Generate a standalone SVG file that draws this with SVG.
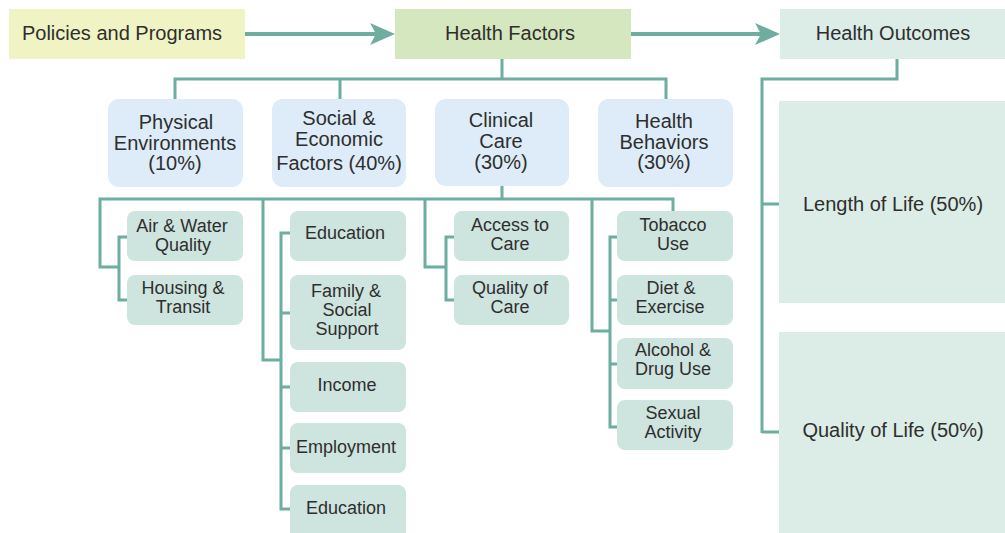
<svg xmlns="http://www.w3.org/2000/svg" width="1005" height="533" viewBox="0 0 1005 533">
<defs>
<style>
text{font-family:"Liberation Sans",Arial,sans-serif;fill:#2e2e2e;text-anchor:middle}
.t1{font-size:20px}
.t2{font-size:20px}
.t3{font-size:18px}
.c{fill:none;stroke:#6daea1;stroke-width:3}
.ar{fill:none;stroke:#6daea1;stroke-width:4}
.hd{fill:#6daea1}
.cat{fill:#ddecf8}
.sub{fill:#cee4de}
.out{fill:#dcece6}
</style>
</defs>
<rect width="1005" height="533" fill="#ffffff"/>
<g id="connectors">
<line class="ar" x1="245" y1="34" x2="378" y2="34"/>
<path class="hd" d="M395,34 L370,23 L376,34 L370,45 Z"/>
<line class="ar" x1="631" y1="34" x2="762" y2="34"/>
<path class="hd" d="M780,34 L755,23 L761,34 L755,45 Z"/>
<path class="c" d="M502,59 V79 M175,100 V79 H666 V100 M340,79 V100"/>
<path class="c" d="M502,186 V199 M673,211 V199 H100 V267 H119 M127,237 H119 V300 H127"/>
<path class="c" d="M263,199 V360 H281 M290,233 H281 V509 H290 M281,313 H290 M281,387 H290 M281,448 H290"/>
<path class="c" d="M425,199 V267 H446 M454,237 H446 V300 H454"/>
<path class="c" d="M592,199 V331 H610 M617,237 H610 V427 H617 M610,300 H617 M610,364 H617"/>
<path class="c" d="M897,59 V79 H762 V433 M762,204 H779 M762,432 H779"/>
</g>
<g id="policies"><rect x="9" y="9" width="236" height="50" fill="#f0f4c5"/><text class="t1" x="122" y="40">Policies and Programs</text></g>
<g id="health-factors"><rect x="395" y="9" width="236" height="50" fill="#d5e7be"/><text class="t1" x="510" y="40">Health Factors</text></g>
<g id="health-outcomes"><rect x="780" y="9" width="225" height="50" class="out"/><text class="t1" x="893" y="40">Health Outcomes</text></g>

<g id="physical"><rect class="cat" x="108" y="99" width="135" height="88" rx="11"/><text class="t2" x="176" y="129">Physical</text><text class="t2" x="175" y="150">Environments</text><text class="t2" x="175" y="170">(10%)</text></g>
<g id="social"><rect class="cat" x="272" y="99" width="134" height="88" rx="11"/><text class="t2" x="339" y="125">Social &amp;</text><text class="t2" x="339" y="146">Economic</text><text class="t2" x="339" y="170">Factors (40%)</text></g>
<g id="clinical"><rect class="cat" x="435" y="99" width="134" height="87" rx="11"/><text class="t2" x="501" y="127">Clinical</text><text class="t2" x="501" y="148">Care</text><text class="t2" x="501" y="169">(30%)</text></g>
<g id="behaviors"><rect class="cat" x="598" y="99" width="135" height="88" rx="11"/><text class="t2" x="664" y="128">Health</text><text class="t2" x="664" y="149">Behaviors</text><text class="t2" x="664" y="169">(30%)</text></g>

<g id="air-water"><rect class="sub" x="127" y="211" width="116" height="50" rx="8"/><text class="t3" x="182" y="232">Air &amp; Water</text><text class="t3" x="183" y="251">Quality</text></g>
<g id="housing"><rect class="sub" x="127" y="275" width="116" height="50" rx="8"/><text class="t3" x="183" y="294">Housing &amp;</text><text class="t3" x="183" y="313">Transit</text></g>
<g id="education1"><rect class="sub" x="290" y="211" width="116" height="50" rx="8"/><text class="t3" x="345" y="239">Education</text></g>
<g id="family"><rect class="sub" x="290" y="275" width="116" height="75" rx="8"/><text class="t3" x="346" y="297">Family &amp;</text><text class="t3" x="347" y="316">Social</text><text class="t3" x="347" y="335">Support</text></g>
<g id="income"><rect class="sub" x="290" y="362" width="116" height="50" rx="8"/><text class="t3" x="347" y="391">Income</text></g>
<g id="employment"><rect class="sub" x="290" y="423" width="116" height="50" rx="8"/><text class="t3" x="346" y="453">Employment</text></g>
<g id="education2"><rect class="sub" x="290" y="485" width="116" height="60" rx="8"/><text class="t3" x="346" y="514">Education</text></g>
<g id="access"><rect class="sub" x="454" y="211" width="115" height="50" rx="8"/><text class="t3" x="510" y="231">Access to</text><text class="t3" x="510" y="250">Care</text></g>
<g id="quality-care"><rect class="sub" x="454" y="275" width="115" height="50" rx="8"/><text class="t3" x="510" y="294">Quality of</text><text class="t3" x="510" y="313">Care</text></g>
<g id="tobacco"><rect class="sub" x="617" y="211" width="116" height="50" rx="8"/><text class="t3" x="673" y="231">Tobacco</text><text class="t3" x="673" y="250">Use</text></g>
<g id="diet"><rect class="sub" x="617" y="275" width="116" height="50" rx="8"/><text class="t3" x="671" y="294">Diet &amp;</text><text class="t3" x="670" y="313">Exercise</text></g>
<g id="alcohol"><rect class="sub" x="617" y="338" width="116" height="51" rx="8"/><text class="t3" x="673" y="356">Alcohol &amp;</text><text class="t3" x="673" y="375">Drug Use</text></g>
<g id="sexual"><rect class="sub" x="617" y="400" width="116" height="50" rx="8"/><text class="t3" x="673" y="419">Sexual</text><text class="t3" x="673" y="438">Activity</text></g>

<g id="length"><rect class="out" x="779" y="101" width="226" height="202"/><text class="t1" x="893" y="211">Length of Life (50%)</text></g>
<g id="quality-life"><rect class="out" x="779" y="332" width="226" height="201"/><text class="t1" x="893" y="437">Quality of Life (50%)</text></g>
</svg>
